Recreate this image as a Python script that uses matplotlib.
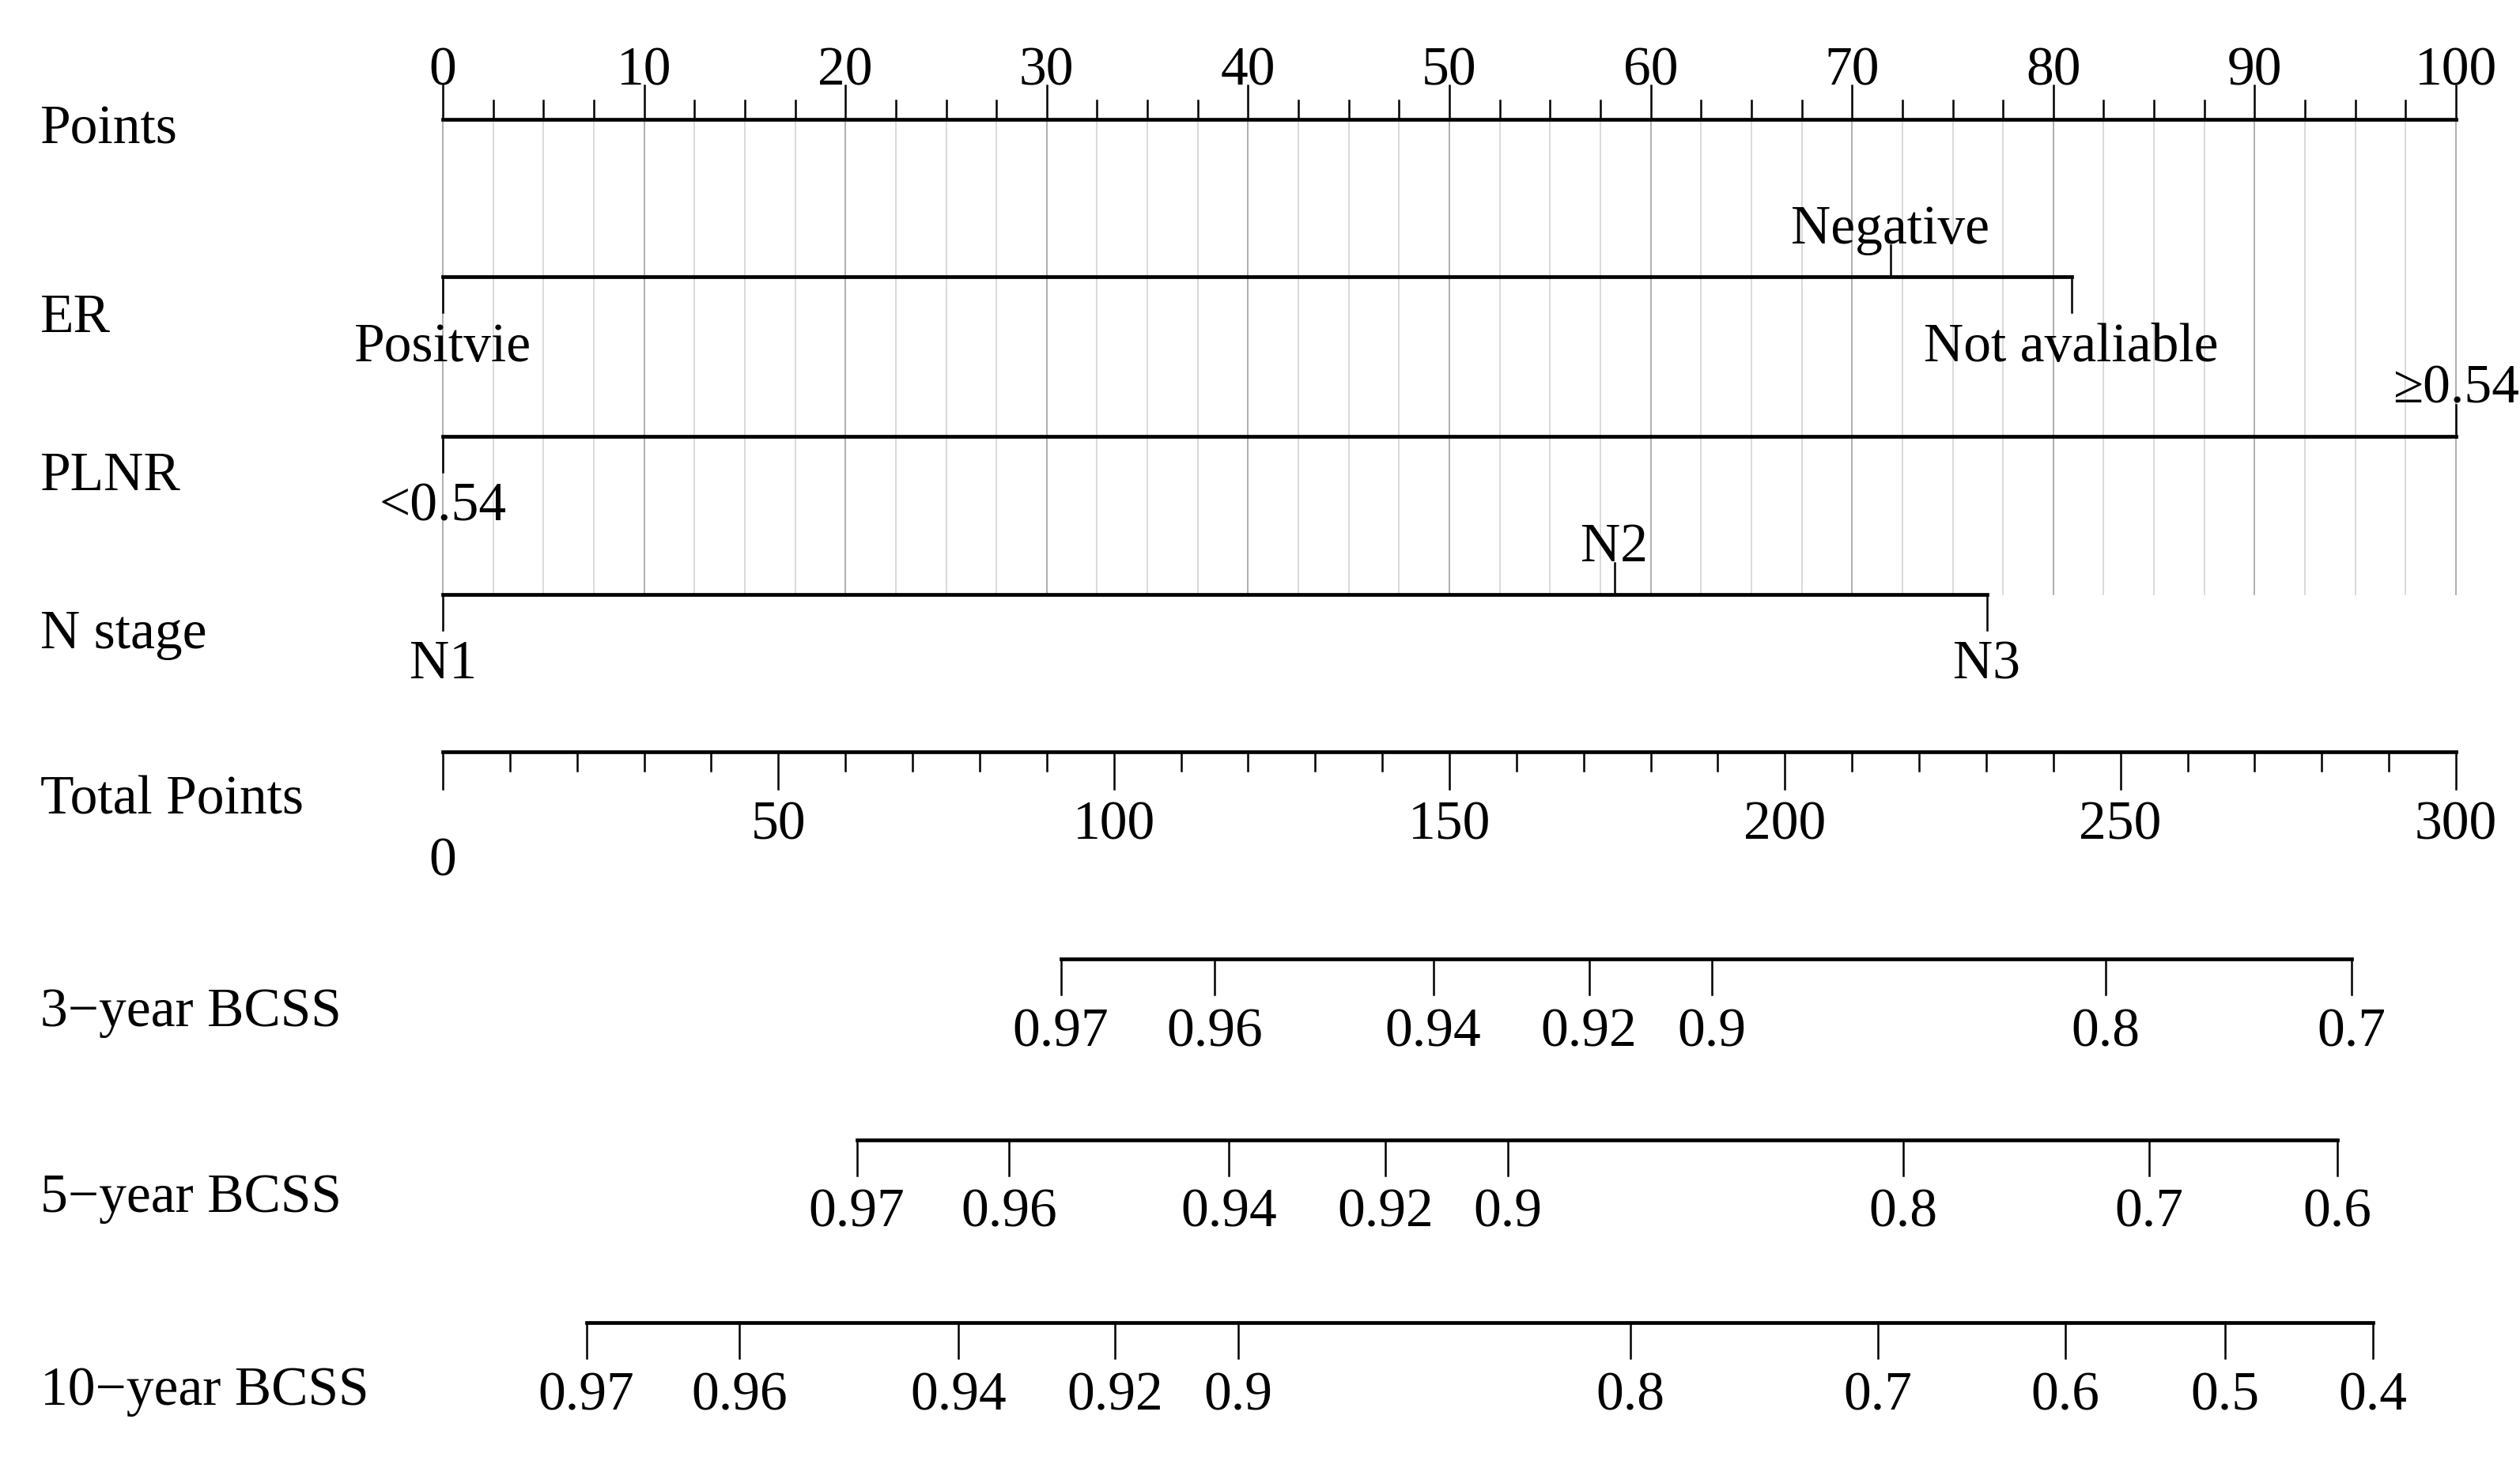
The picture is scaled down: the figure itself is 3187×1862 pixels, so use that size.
import matplotlib

matplotlib.use("Agg")
import matplotlib.pyplot as plt
import numpy as np

plt.rcParams["font.family"] = ["Liberation Serif", "DejaVu Serif"]

# nomogram scales
points_major = np.arange(0, 101, 10)
points_minor = np.arange(0, 100.1, 2.5)

er_levels = ["Positvie", "Negative", "Not avaliable"]
er_points = [0, 71.9, 80.9]
er_side = ["down", "up", "down"]

plnr_levels = ["<0.54", "\u22650.54"]
plnr_points = [0, 100]
plnr_side = ["down", "up"]

n_levels = ["N1", "N2", "N3"]
n_points = [0, 58.2, 76.7]
n_side = ["down", "up", "down"]

total_major = np.arange(0, 301, 50)
total_minor = np.arange(0, 301, 10)

surv_labels_3y = ["0.97", "0.96", "0.94", "0.92", "0.9", "0.8", "0.7"]
surv_total_3y = [92.1, 115.0, 147.6, 170.8, 189.1, 247.8, 284.4]

surv_labels_5y = ["0.97", "0.96", "0.94", "0.92", "0.9", "0.8", "0.7", "0.6"]
surv_total_5y = [61.7, 84.4, 117.1, 140.5, 158.7, 217.6, 254.3, 282.3]

surv_labels_10y = ["0.97", "0.96", "0.94", "0.92", "0.9", "0.8", "0.7", "0.6", "0.5", "0.4"]
surv_total_10y = [21.4, 44.2, 76.8, 100.2, 118.5, 177.0, 213.9, 241.8, 265.6, 287.6]

# layout (pixel rows of the 3187x1862 canvas)
FS = 50
LW_AXIS = 3.4
LW_TICK = 1.8
Y_POINTS, Y_ER, Y_PLNR, Y_N, Y_TOTAL = 151, 350, 552, 752, 951
Y_3Y, Y_5Y, Y_10Y = 1213, 1442, 1673

fig = plt.figure(figsize=(31.87, 18.62), dpi=100)
ax = fig.add_axes([0, 0, 1, 1])
L, R = 560 / 3187, 3106 / 3187
ax.set_xlim(-L / (R - L) * 100, 100 + (1 - R) / (R - L) * 100)
ax.set_ylim(1862, 0)
ax.axis("off")

lab = ax.get_yaxis_transform()

# vertical grid
for v in points_minor:
    major = np.isclose(v % 10, 0)
    ax.plot([v, v], [Y_POINTS, Y_N], color="#999999" if major else "#d0d0d0",
            lw=1.1, zorder=0)

# Points axis
ax.plot([0, 100], [Y_POINTS, Y_POINTS], color="black", lw=LW_AXIS)
for v in points_minor:
    major = np.isclose(v % 10, 0)
    ax.plot([v, v], [Y_POINTS, Y_POINTS - (43 if major else 24)], color="black", lw=LW_TICK)
for v in points_major:
    ax.text(v, 108, f"{v}", ha="center", va="baseline", fontsize=FS)
ax.text(0.016, 182, "Points", transform=lab, ha="left", va="baseline", fontsize=FS)


def factor_axis(y, pts, levels, sides, name, name_y):
    ax.plot([min(pts), max(pts)], [y, y], color="black", lw=LW_AXIS)
    for p, t, s in zip(pts, levels, sides):
        if s == "up":
            ax.plot([p, p], [y, y - 40], color="black", lw=LW_TICK)
            ax.text(p, y - 42, t, ha="center", va="baseline", fontsize=FS)
        else:
            ax.plot([p, p], [y, y + 45], color="black", lw=LW_TICK)
            ax.text(p, y + 58, t, ha="center", va="top", fontsize=FS)
    ax.text(0.016, name_y, name, transform=lab, ha="left", va="baseline", fontsize=FS)


factor_axis(Y_ER, er_points, er_levels, er_side, "ER", 420)
factor_axis(Y_PLNR, plnr_points, plnr_levels, plnr_side, "PLNR", 620)
factor_axis(Y_N, n_points, n_levels, n_side, "N stage", 820)

# Total points axis (0-300 mapped onto 0-100)
ax.plot([0, 100], [Y_TOTAL, Y_TOTAL], color="black", lw=LW_AXIS)
for v in total_minor:
    major = v % 50 == 0
    ax.plot([v / 3, v / 3], [Y_TOTAL, Y_TOTAL + (47 if major else 24)], color="black", lw=LW_TICK)
for v in total_major:
    ax.text(v / 3, 1108 if v == 0 else 1062, f"{v}", ha="center", va="baseline", fontsize=FS)
ax.text(0.016, 1030, "Total Points", transform=lab, ha="left", va="baseline", fontsize=FS)


def surv_axis(y, totals, labels, name, name_y, lab_y):
    xs = np.array(totals) / 3
    ax.plot([xs.min(), xs.max()], [y, y], color="black", lw=LW_AXIS)
    for x, t in zip(xs, labels):
        ax.plot([x, x], [y, y + 45], color="black", lw=LW_TICK)
        ax.text(x, lab_y, t, ha="center", va="baseline", fontsize=FS)
    ax.text(0.016, name_y, name, transform=lab, ha="left", va="baseline", fontsize=FS)


surv_axis(Y_3Y, surv_total_3y, surv_labels_3y, "3\u2212year BCSS", 1298, 1323)
surv_axis(Y_5Y, surv_total_5y, surv_labels_5y, "5\u2212year BCSS", 1533, 1552)
surv_axis(Y_10Y, surv_total_10y, surv_labels_10y, "10\u2212year BCSS", 1777, 1783)

fig.savefig("out.png", dpi=100, facecolor="white")
